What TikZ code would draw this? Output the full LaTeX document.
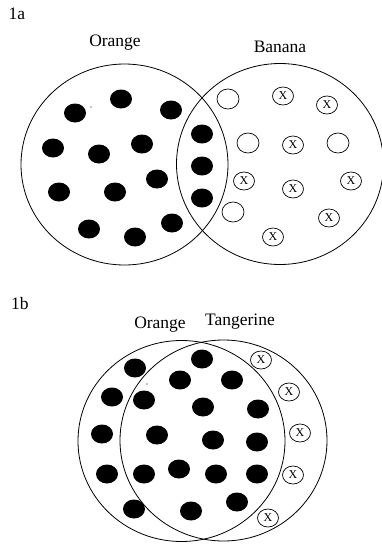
\documentclass[tikz,border=0pt]{standalone}
\usepackage{fontspec}
\setmainfont{Liberation Serif}
\usetikzlibrary{shapes.geometric}

\begin{document}
\begin{tikzpicture}[x=1pt, y=-1pt,
      set/.style = {draw, ellipse, line width=0.8pt, inner sep=0pt, minimum width=207pt, minimum height=201pt},
      dot/.style = {fill=black, ellipse, inner sep=0pt, minimum width=22pt, minimum height=19pt},
      hole/.style = {draw, ellipse, line width=0.7pt, inner sep=0pt, minimum width=22pt, minimum height=20pt},
      xmark/.style = {draw, ellipse, line width=0.7pt, inner sep=0pt, minimum width=21pt, minimum height=18pt, font=\fontsize{12}{12}\selectfont},
      lbl/.style = {font=\fontsize{17.5}{20}\selectfont}
    ]
    \useasboundingbox (0,0) rectangle (382,544);

    % 1a
    \node[lbl] (tag1) at (17,14) {1a};
    \node[set] (orange1) at (124.5,164.5) {};
    \node[set] (banana) at (280,164) {};
    \node[lbl] (orangelbl1) at (115,43) {Orange};
    \node[lbl] (bananalbl) at (280,47) {Banana};

    \foreach \x/\y [count=\i] in {75/113, 121/99, 171/110, 53/148, 99/154, 142/144,
        59/192, 115/192, 157/179, 89/229, 135/237, 172/223, 202/134, 202/166, 202/198}
      \node[dot] (a\i) at (\x,\y) {};
    \foreach \x/\y [count=\i] in {228/99, 248/143, 338/143, 233/212}
      \node[hole] (h\i) at (\x,\y) {};
    \foreach \x/\y [count=\i] in {283/96, 327/105, 293/145, 244/181, 293/189,
        351/181, 329/218, 273/237}
      \node[xmark] (ax\i) at (\x,\y) {X};
    \fill (91,107) circle (0.6) coordinate (speck1);

    % 1b
    \node[lbl] (tag2) at (20,304) {1b};
    \node[set] (orange2) at (181.5,441) {};
    \node[set] (tangerine) at (223.5,440.5) {};
    \node[lbl] (orangelbl2) at (160,325) {Orange};
    \node[lbl] (tangerinelbl) at (240,322) {Tangerine};

    \foreach \x/\y [count=\i] in {135/368, 202/359, 180/380, 232/380, 112/397,
        144/400, 203/407, 258/409, 102/434, 157/435, 213/440, 257/442, 107/474,
        144/474, 179/469, 216/474, 257/474, 134/509, 191/511, 237/502}
      \node[dot] (b\i) at (\x,\y) {};
    \foreach \x/\y [count=\i] in {261/360, 289/392, 300/433, 293/475, 268/518}
      \node[xmark] (bx\i) at (\x,\y) {X};
    \fill (147,384) circle (0.6) coordinate (speck2);

\end{tikzpicture}
\end{document}
